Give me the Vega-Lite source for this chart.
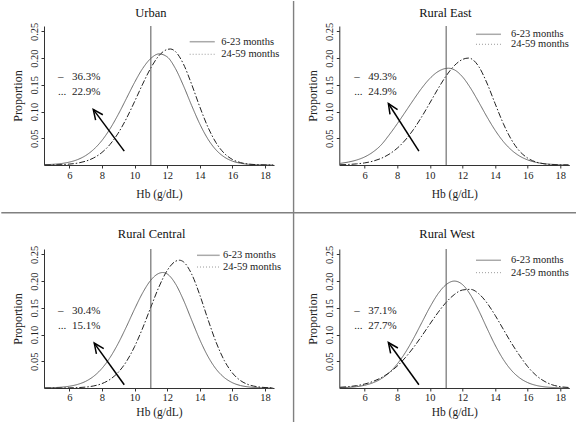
{
"$schema": "https://vega.github.io/schema/vega-lite/v6.json",
"padding": 0,
"columns": 2,
"bounds": "flush",
"spacing": {"row": 84, "column": 65.3},
"datasets": {
"curves": [
{"region":"Urban","age":"6-23 months","hb":4.5,"prop":0.0006},{"region":"Urban","age":"6-23 months","hb":5,"prop":0.0013},{"region":"Urban","age":"6-23 months","hb":5.5,"prop":0.0027},{"region":"Urban","age":"6-23 months","hb":6,"prop":0.0054},{"region":"Urban","age":"6-23 months","hb":6.5,"prop":0.01},{"region":"Urban","age":"6-23 months","hb":7,"prop":0.0176},{"region":"Urban","age":"6-23 months","hb":7.5,"prop":0.0293},{"region":"Urban","age":"6-23 months","hb":8,"prop":0.0458},{"region":"Urban","age":"6-23 months","hb":8.5,"prop":0.0678},{"region":"Urban","age":"6-23 months","hb":9,"prop":0.0945},{"region":"Urban","age":"6-23 months","hb":9.5,"prop":0.1243},{"region":"Urban","age":"6-23 months","hb":10,"prop":0.1543},{"region":"Urban","age":"6-23 months","hb":10.5,"prop":0.1806},{"region":"Urban","age":"6-23 months","hb":11,"prop":0.1994},{"region":"Urban","age":"6-23 months","hb":11.5,"prop":0.2078},{"region":"Urban","age":"6-23 months","hb":12,"prop":0.2023},{"region":"Urban","age":"6-23 months","hb":12.5,"prop":0.1808},{"region":"Urban","age":"6-23 months","hb":13,"prop":0.1482},{"region":"Urban","age":"6-23 months","hb":13.5,"prop":0.1114},{"region":"Urban","age":"6-23 months","hb":14,"prop":0.0768},{"region":"Urban","age":"6-23 months","hb":14.5,"prop":0.0485},{"region":"Urban","age":"6-23 months","hb":15,"prop":0.0281},{"region":"Urban","age":"6-23 months","hb":15.5,"prop":0.015},{"region":"Urban","age":"6-23 months","hb":16,"prop":0.0073},{"region":"Urban","age":"6-23 months","hb":16.5,"prop":0.0033},{"region":"Urban","age":"6-23 months","hb":17,"prop":0.0013},{"region":"Urban","age":"6-23 months","hb":17.5,"prop":0.0005},{"region":"Urban","age":"6-23 months","hb":18,"prop":0.0002},{"region":"Urban","age":"6-23 months","hb":18.5,"prop":0.0},
{"region":"Urban","age":"24-59 months","hb":4.5,"prop":0.0001},{"region":"Urban","age":"24-59 months","hb":5,"prop":0.0003},{"region":"Urban","age":"24-59 months","hb":5.5,"prop":0.0007},{"region":"Urban","age":"24-59 months","hb":6,"prop":0.0017},{"region":"Urban","age":"24-59 months","hb":6.5,"prop":0.0035},{"region":"Urban","age":"24-59 months","hb":7,"prop":0.0071},{"region":"Urban","age":"24-59 months","hb":7.5,"prop":0.0133},{"region":"Urban","age":"24-59 months","hb":8,"prop":0.0234},{"region":"Urban","age":"24-59 months","hb":8.5,"prop":0.0386},{"region":"Urban","age":"24-59 months","hb":9,"prop":0.0597},{"region":"Urban","age":"24-59 months","hb":9.5,"prop":0.0868},{"region":"Urban","age":"24-59 months","hb":10,"prop":0.1184},{"region":"Urban","age":"24-59 months","hb":10.5,"prop":0.1514},{"region":"Urban","age":"24-59 months","hb":11,"prop":0.1817},{"region":"Urban","age":"24-59 months","hb":11.5,"prop":0.2046},{"region":"Urban","age":"24-59 months","hb":12,"prop":0.2161},{"region":"Urban","age":"24-59 months","hb":12.2,"prop":0.217},{"region":"Urban","age":"24-59 months","hb":12.5,"prop":0.2124},{"region":"Urban","age":"24-59 months","hb":13,"prop":0.1887},{"region":"Urban","age":"24-59 months","hb":13.5,"prop":0.151},{"region":"Urban","age":"24-59 months","hb":14,"prop":0.1089},{"region":"Urban","age":"24-59 months","hb":14.5,"prop":0.0708},{"region":"Urban","age":"24-59 months","hb":15,"prop":0.0415},{"region":"Urban","age":"24-59 months","hb":15.5,"prop":0.0219},{"region":"Urban","age":"24-59 months","hb":16,"prop":0.0104},{"region":"Urban","age":"24-59 months","hb":16.5,"prop":0.0045},{"region":"Urban","age":"24-59 months","hb":17,"prop":0.0017},{"region":"Urban","age":"24-59 months","hb":17.5,"prop":0.0006},{"region":"Urban","age":"24-59 months","hb":18,"prop":0.0002},{"region":"Urban","age":"24-59 months","hb":18.5,"prop":0.0},
{"region":"Rural East","age":"6-23 months","hb":4.5,"prop":0.003},{"region":"Rural East","age":"6-23 months","hb":5,"prop":0.0055},{"region":"Rural East","age":"6-23 months","hb":5.5,"prop":0.0092},{"region":"Rural East","age":"6-23 months","hb":6,"prop":0.015},{"region":"Rural East","age":"6-23 months","hb":6.5,"prop":0.024},{"region":"Rural East","age":"6-23 months","hb":7,"prop":0.037},{"region":"Rural East","age":"6-23 months","hb":7.5,"prop":0.056},{"region":"Rural East","age":"6-23 months","hb":8,"prop":0.077},{"region":"Rural East","age":"6-23 months","hb":8.5,"prop":0.0994},{"region":"Rural East","age":"6-23 months","hb":9,"prop":0.122},{"region":"Rural East","age":"6-23 months","hb":9.5,"prop":0.1436},{"region":"Rural East","age":"6-23 months","hb":10,"prop":0.1618},{"region":"Rural East","age":"6-23 months","hb":10.5,"prop":0.1747},{"region":"Rural East","age":"6-23 months","hb":11,"prop":0.1807},{"region":"Rural East","age":"6-23 months","hb":11.15,"prop":0.181},{"region":"Rural East","age":"6-23 months","hb":11.5,"prop":0.1781},{"region":"Rural East","age":"6-23 months","hb":12,"prop":0.165},{"region":"Rural East","age":"6-23 months","hb":12.5,"prop":0.1436},{"region":"Rural East","age":"6-23 months","hb":13,"prop":0.1175},{"region":"Rural East","age":"6-23 months","hb":13.5,"prop":0.0902},{"region":"Rural East","age":"6-23 months","hb":14,"prop":0.0651},{"region":"Rural East","age":"6-23 months","hb":14.5,"prop":0.0441},{"region":"Rural East","age":"6-23 months","hb":15,"prop":0.0281},{"region":"Rural East","age":"6-23 months","hb":15.5,"prop":0.0168},{"region":"Rural East","age":"6-23 months","hb":16,"prop":0.0095},{"region":"Rural East","age":"6-23 months","hb":16.5,"prop":0.005},{"region":"Rural East","age":"6-23 months","hb":17,"prop":0.0025},{"region":"Rural East","age":"6-23 months","hb":17.5,"prop":0.0012},{"region":"Rural East","age":"6-23 months","hb":18,"prop":0.0005},{"region":"Rural East","age":"6-23 months","hb":18.5,"prop":0.0002},
{"region":"Rural East","age":"24-59 months","hb":4.5,"prop":0.0005},{"region":"Rural East","age":"24-59 months","hb":5,"prop":0.001},{"region":"Rural East","age":"24-59 months","hb":5.5,"prop":0.0021},{"region":"Rural East","age":"24-59 months","hb":6,"prop":0.0039},{"region":"Rural East","age":"24-59 months","hb":6.5,"prop":0.0071},{"region":"Rural East","age":"24-59 months","hb":7,"prop":0.0122},{"region":"Rural East","age":"24-59 months","hb":7.5,"prop":0.0201},{"region":"Rural East","age":"24-59 months","hb":8,"prop":0.0314},{"region":"Rural East","age":"24-59 months","hb":8.5,"prop":0.0468},{"region":"Rural East","age":"24-59 months","hb":9,"prop":0.0665},{"region":"Rural East","age":"24-59 months","hb":9.5,"prop":0.09},{"region":"Rural East","age":"24-59 months","hb":10,"prop":0.116},{"region":"Rural East","age":"24-59 months","hb":10.5,"prop":0.1425},{"region":"Rural East","age":"24-59 months","hb":11,"prop":0.1667},{"region":"Rural East","age":"24-59 months","hb":11.5,"prop":0.1858},{"region":"Rural East","age":"24-59 months","hb":12,"prop":0.1974},{"region":"Rural East","age":"24-59 months","hb":12.37,"prop":0.2},{"region":"Rural East","age":"24-59 months","hb":12.5,"prop":0.1993},{"region":"Rural East","age":"24-59 months","hb":13,"prop":0.1841},{"region":"Rural East","age":"24-59 months","hb":13.5,"prop":0.1533},{"region":"Rural East","age":"24-59 months","hb":14,"prop":0.115},{"region":"Rural East","age":"24-59 months","hb":14.5,"prop":0.0778},{"region":"Rural East","age":"24-59 months","hb":15,"prop":0.0474},{"region":"Rural East","age":"24-59 months","hb":15.5,"prop":0.026},{"region":"Rural East","age":"24-59 months","hb":16,"prop":0.0129},{"region":"Rural East","age":"24-59 months","hb":16.5,"prop":0.0057},{"region":"Rural East","age":"24-59 months","hb":17,"prop":0.0023},{"region":"Rural East","age":"24-59 months","hb":17.5,"prop":0.0008},{"region":"Rural East","age":"24-59 months","hb":18,"prop":0.0003},{"region":"Rural East","age":"24-59 months","hb":18.5,"prop":0.0001},
{"region":"Rural Central","age":"6-23 months","hb":4.5,"prop":0.0003},{"region":"Rural Central","age":"6-23 months","hb":5,"prop":0.0007},{"region":"Rural Central","age":"6-23 months","hb":5.5,"prop":0.0015},{"region":"Rural Central","age":"6-23 months","hb":6,"prop":0.0033},{"region":"Rural Central","age":"6-23 months","hb":6.5,"prop":0.0066},{"region":"Rural Central","age":"6-23 months","hb":7,"prop":0.0124},{"region":"Rural Central","age":"6-23 months","hb":7.5,"prop":0.022},{"region":"Rural Central","age":"6-23 months","hb":8,"prop":0.0366},{"region":"Rural Central","age":"6-23 months","hb":8.5,"prop":0.0571},{"region":"Rural Central","age":"6-23 months","hb":9,"prop":0.0835},{"region":"Rural Central","age":"6-23 months","hb":9.5,"prop":0.1145},{"region":"Rural Central","age":"6-23 months","hb":10,"prop":0.1475},{"region":"Rural Central","age":"6-23 months","hb":10.5,"prop":0.1781},{"region":"Rural Central","age":"6-23 months","hb":11,"prop":0.2018},{"region":"Rural Central","age":"6-23 months","hb":11.5,"prop":0.2145},{"region":"Rural Central","age":"6-23 months","hb":11.73,"prop":0.216},{"region":"Rural Central","age":"6-23 months","hb":12,"prop":0.2134},{"region":"Rural Central","age":"6-23 months","hb":12.5,"prop":0.1954},{"region":"Rural Central","age":"6-23 months","hb":13,"prop":0.1645},{"region":"Rural Central","age":"6-23 months","hb":13.5,"prop":0.1272},{"region":"Rural Central","age":"6-23 months","hb":14,"prop":0.0904},{"region":"Rural Central","age":"6-23 months","hb":14.5,"prop":0.0591},{"region":"Rural Central","age":"6-23 months","hb":15,"prop":0.0354},{"region":"Rural Central","age":"6-23 months","hb":15.5,"prop":0.0196},{"region":"Rural Central","age":"6-23 months","hb":16,"prop":0.0099},{"region":"Rural Central","age":"6-23 months","hb":16.5,"prop":0.0046},{"region":"Rural Central","age":"6-23 months","hb":17,"prop":0.002},{"region":"Rural Central","age":"6-23 months","hb":17.5,"prop":0.0008},{"region":"Rural Central","age":"6-23 months","hb":18,"prop":0.0003},{"region":"Rural Central","age":"6-23 months","hb":18.5,"prop":0.0001},
{"region":"Rural Central","age":"24-59 months","hb":4.5,"prop":0.0},{"region":"Rural Central","age":"24-59 months","hb":5,"prop":0.0},{"region":"Rural Central","age":"24-59 months","hb":5.5,"prop":0.0001},{"region":"Rural Central","age":"24-59 months","hb":6,"prop":0.0003},{"region":"Rural Central","age":"24-59 months","hb":6.5,"prop":0.0007},{"region":"Rural Central","age":"24-59 months","hb":7,"prop":0.0017},{"region":"Rural Central","age":"24-59 months","hb":7.5,"prop":0.0039},{"region":"Rural Central","age":"24-59 months","hb":8,"prop":0.0082},{"region":"Rural Central","age":"24-59 months","hb":8.5,"prop":0.0161},{"region":"Rural Central","age":"24-59 months","hb":9,"prop":0.0293},{"region":"Rural Central","age":"24-59 months","hb":9.5,"prop":0.0494},{"region":"Rural Central","age":"24-59 months","hb":10,"prop":0.0773},{"region":"Rural Central","age":"24-59 months","hb":10.5,"prop":0.1122},{"region":"Rural Central","age":"24-59 months","hb":11,"prop":0.1513},{"region":"Rural Central","age":"24-59 months","hb":11.5,"prop":0.1893},{"region":"Rural Central","age":"24-59 months","hb":12,"prop":0.2197},{"region":"Rural Central","age":"24-59 months","hb":12.5,"prop":0.2368},{"region":"Rural Central","age":"24-59 months","hb":12.75,"prop":0.239},{"region":"Rural Central","age":"24-59 months","hb":13,"prop":0.236},{"region":"Rural Central","age":"24-59 months","hb":13.5,"prop":0.2132},{"region":"Rural Central","age":"24-59 months","hb":14,"prop":0.1741},{"region":"Rural Central","age":"24-59 months","hb":14.5,"prop":0.1284},{"region":"Rural Central","age":"24-59 months","hb":15,"prop":0.0856},{"region":"Rural Central","age":"24-59 months","hb":15.5,"prop":0.0516},{"region":"Rural Central","age":"24-59 months","hb":16,"prop":0.0281},{"region":"Rural Central","age":"24-59 months","hb":16.5,"prop":0.0138},{"region":"Rural Central","age":"24-59 months","hb":17,"prop":0.0061},{"region":"Rural Central","age":"24-59 months","hb":17.5,"prop":0.0025},{"region":"Rural Central","age":"24-59 months","hb":18,"prop":0.0009},{"region":"Rural Central","age":"24-59 months","hb":18.5,"prop":0.0003},
{"region":"Rural West","age":"6-23 months","hb":4.5,"prop":0.0005},{"region":"Rural West","age":"6-23 months","hb":5,"prop":0.0012},{"region":"Rural West","age":"6-23 months","hb":5.5,"prop":0.0025},{"region":"Rural West","age":"6-23 months","hb":6,"prop":0.0051},{"region":"Rural West","age":"6-23 months","hb":6.5,"prop":0.0096},{"region":"Rural West","age":"6-23 months","hb":7,"prop":0.017},{"region":"Rural West","age":"6-23 months","hb":7.5,"prop":0.0284},{"region":"Rural West","age":"6-23 months","hb":8,"prop":0.0448},{"region":"Rural West","age":"6-23 months","hb":8.5,"prop":0.0664},{"region":"Rural West","age":"6-23 months","hb":9,"prop":0.0927},{"region":"Rural West","age":"6-23 months","hb":9.5,"prop":0.1219},{"region":"Rural West","age":"6-23 months","hb":10,"prop":0.151},{"region":"Rural West","age":"6-23 months","hb":10.5,"prop":0.1761},{"region":"Rural West","age":"6-23 months","hb":11,"prop":0.1934},{"region":"Rural West","age":"6-23 months","hb":11.5,"prop":0.2},{"region":"Rural West","age":"6-23 months","hb":12,"prop":0.1935},{"region":"Rural West","age":"6-23 months","hb":12.5,"prop":0.1738},{"region":"Rural West","age":"6-23 months","hb":13,"prop":0.1448},{"region":"Rural West","age":"6-23 months","hb":13.5,"prop":0.112},{"region":"Rural West","age":"6-23 months","hb":14,"prop":0.0804},{"region":"Rural West","age":"6-23 months","hb":14.5,"prop":0.0536},{"region":"Rural West","age":"6-23 months","hb":15,"prop":0.0331},{"region":"Rural West","age":"6-23 months","hb":15.5,"prop":0.019},{"region":"Rural West","age":"6-23 months","hb":16,"prop":0.0101},{"region":"Rural West","age":"6-23 months","hb":16.5,"prop":0.005},{"region":"Rural West","age":"6-23 months","hb":17,"prop":0.0023},{"region":"Rural West","age":"6-23 months","hb":17.5,"prop":0.001},{"region":"Rural West","age":"6-23 months","hb":18,"prop":0.0004},{"region":"Rural West","age":"6-23 months","hb":18.5,"prop":0.0001},
{"region":"Rural West","age":"24-59 months","hb":4.5,"prop":0.0014},{"region":"Rural West","age":"24-59 months","hb":5,"prop":0.0025},{"region":"Rural West","age":"24-59 months","hb":5.5,"prop":0.0044},{"region":"Rural West","age":"24-59 months","hb":6,"prop":0.0074},{"region":"Rural West","age":"24-59 months","hb":6.5,"prop":0.0121},{"region":"Rural West","age":"24-59 months","hb":7,"prop":0.0189},{"region":"Rural West","age":"24-59 months","hb":7.5,"prop":0.0284},{"region":"Rural West","age":"24-59 months","hb":8,"prop":0.041},{"region":"Rural West","age":"24-59 months","hb":8.5,"prop":0.0569},{"region":"Rural West","age":"24-59 months","hb":9,"prop":0.0758},{"region":"Rural West","age":"24-59 months","hb":9.5,"prop":0.097},{"region":"Rural West","age":"24-59 months","hb":10,"prop":0.1194},{"region":"Rural West","age":"24-59 months","hb":10.5,"prop":0.1411},{"region":"Rural West","age":"24-59 months","hb":11,"prop":0.1602},{"region":"Rural West","age":"24-59 months","hb":11.5,"prop":0.1748},{"region":"Rural West","age":"24-59 months","hb":12,"prop":0.1833},{"region":"Rural West","age":"24-59 months","hb":12.5,"prop":0.1845},{"region":"Rural West","age":"24-59 months","hb":13,"prop":0.1763},{"region":"Rural West","age":"24-59 months","hb":13.5,"prop":0.1593},{"region":"Rural West","age":"24-59 months","hb":14,"prop":0.1361},{"region":"Rural West","age":"24-59 months","hb":14.5,"prop":0.1101},{"region":"Rural West","age":"24-59 months","hb":15,"prop":0.0842},{"region":"Rural West","age":"24-59 months","hb":15.5,"prop":0.0609},{"region":"Rural West","age":"24-59 months","hb":16,"prop":0.04},{"region":"Rural West","age":"24-59 months","hb":16.5,"prop":0.024},{"region":"Rural West","age":"24-59 months","hb":17,"prop":0.013},{"region":"Rural West","age":"24-59 months","hb":17.5,"prop":0.006},{"region":"Rural West","age":"24-59 months","hb":18,"prop":0.0025},{"region":"Rural West","age":"24-59 months","hb":18.5,"prop":0.001}
],
"titles": [
{"region":"Urban","tx":11.0,"ty":0.2843},
{"region":"Rural East","tx":10.95,"ty":0.2843},
{"region":"Rural Central","tx":11.05,"ty":0.2886},
{"region":"Rural West","tx":11.05,"ty":0.2886}
],
"legend": [
{"region":"Urban","age":"6-23 months","lx1":13.38,"lx2":14.92,"tx":15.32,"ly":0.2306},
{"region":"Urban","age":"24-59 months","lx1":13.38,"lx2":14.92,"tx":15.32,"ly":0.2071},
{"region":"Rural East","age":"6-23 months","lx1":12.83,"lx2":14.36,"tx":14.97,"ly":0.2445},
{"region":"Rural East","age":"24-59 months","lx1":12.83,"lx2":14.36,"tx":14.97,"ly":0.2258},
{"region":"Rural Central","age":"6-23 months","lx1":13.83,"lx2":15.22,"tx":15.42,"ly":0.2482},
{"region":"Rural Central","age":"24-59 months","lx1":13.83,"lx2":15.22,"tx":15.42,"ly":0.2263},
{"region":"Rural West","age":"6-23 months","lx1":12.83,"lx2":14.36,"tx":14.97,"ly":0.2389},
{"region":"Rural West","age":"24-59 months","lx1":12.83,"lx2":14.36,"tx":14.97,"ly":0.2157}
],
"notes": [
{"region":"Urban","sym":"–","pct":"36.3%","mx":5.31,"nx":6.17,"ny":0.1646},
{"region":"Urban","sym":"...","pct":"22.9%","mx":5.31,"nx":6.17,"ny":0.137},
{"region":"Rural East","sym":"–","pct":"49.3%","mx":5.37,"nx":6.23,"ny":0.1646},
{"region":"Rural East","sym":"...","pct":"24.9%","mx":5.37,"nx":6.23,"ny":0.137},
{"region":"Rural Central","sym":"–","pct":"30.4%","mx":5.31,"nx":6.17,"ny":0.1435},
{"region":"Rural Central","sym":"...","pct":"15.1%","mx":5.31,"nx":6.17,"ny":0.116},
{"region":"Rural West","sym":"–","pct":"37.1%","mx":5.37,"nx":6.23,"ny":0.1435},
{"region":"Rural West","sym":"...","pct":"27.7%","mx":5.37,"nx":6.23,"ny":0.116}
],
"arrows": [
{"region":"Urban","x0":9.37,"y0":0.026,"x1":7.47,"y1":0.104},
{"region":"Rural East","x0":9.33,"y0":0.026,"x1":7.46,"y1":0.115},
{"region":"Rural Central","x0":9.37,"y0":0.006,"x1":7.53,"y1":0.084},
{"region":"Rural West","x0":9.33,"y0":0.006,"x1":7.46,"y1":0.085}
],
"dividers": [
{"x":19.75,"x2":19.75,"y":0.3068,"y2":-0.4826},
{"x":1.832,"x2":37.144,"y":-0.0892,"y2":-0.0892}
]
},
"concat": [
{
"width":230,"height":139,
"layer":[
{"data":{"name":"curves"},"transform":[{"filter":"datum.region === 'Urban'"}],"mark":{"type":"line","interpolate":"monotone","strokeWidth":1},
"encoding":{
"x":{"field":"hb","type":"quantitative","scale":{"domain":[4.45,18.55],"nice":false,"zero":false},"axis":{"values":[6,8,10,12,14,16,18],"tickCount":30,"format":"d","title":"Hb (g/dL)","titlePadding":8,"labelPadding":2,"labelFlush":false,"labelOverlap":false}},
"y":{"field":"prop","type":"quantitative","scale":{"domain":[0,0.26],"nice":false,"zero":false},"axis":{"values":[0.05,0.1,0.15,0.2,0.25],"tickCount":30,"format":".2f","labelAngle":-90,"labelAlign":"center","labelBaseline":"bottom","labelOverlap":false,"title":"Proportion","titlePadding":5,"labelPadding":2}},
"color":{"field":"age","type":"nominal","scale":{"domain":["6-23 months","24-59 months"],"range":["#666666","#222222"]},"legend":null},
"strokeDash":{"field":"age","type":"nominal","scale":{"domain":["6-23 months","24-59 months"],"range":[[1,0],[6,2,1.5,2]]},"legend":null}}},
{"data":{"values":[{}]},"mark":{"type":"rule","color":"#555555","strokeWidth":1},"encoding":{"x":{"datum":11}}},
{"data":{"name":"titles"},"transform":[{"filter":"datum.region === 'Urban'"}],"mark":{"type":"text","align":"center","baseline":"middle","fontSize":12.5,"color":"#111111"},"encoding":{"x":{"field":"tx","type":"quantitative"},"y":{"field":"ty","type":"quantitative"},"text":{"field":"region"}}},
{"data":{"name":"legend"},"transform":[{"filter":"datum.region === 'Urban' && datum.age === '6-23 months'"}],"mark":{"type":"rule","color":"#aaaaaa","strokeWidth":1.5},"encoding":{"x":{"field":"lx1","type":"quantitative"},"x2":{"field":"lx2"},"y":{"field":"ly","type":"quantitative"}}},
{"data":{"name":"legend"},"transform":[{"filter":"datum.region === 'Urban' && datum.age === '24-59 months'"}],"mark":{"type":"rule","color":"#999999","strokeWidth":1,"strokeDash":[1,2]},"encoding":{"x":{"field":"lx1","type":"quantitative"},"x2":{"field":"lx2"},"y":{"field":"ly","type":"quantitative"}}},
{"data":{"name":"legend"},"transform":[{"filter":"datum.region === 'Urban'"}],"mark":{"type":"text","align":"left","baseline":"middle","fontSize":10.5,"color":"#222222"},"encoding":{"x":{"field":"tx","type":"quantitative"},"y":{"field":"ly","type":"quantitative"},"text":{"field":"age"}}},
{"data":{"name":"notes"},"transform":[{"filter":"datum.region === 'Urban'"}],"mark":{"type":"text","align":"left","baseline":"middle","fontSize":11,"color":"#222222"},"encoding":{"x":{"field":"mx","type":"quantitative"},"y":{"field":"ny","type":"quantitative"},"text":{"field":"sym"}}},
{"data":{"name":"notes"},"transform":[{"filter":"datum.region === 'Urban'"}],"mark":{"type":"text","align":"left","baseline":"middle","fontSize":11,"color":"#222222"},"encoding":{"x":{"field":"nx","type":"quantitative"},"y":{"field":"ny","type":"quantitative"},"text":{"field":"pct"}}},
{"data":{"name":"arrows"},"transform":[{"filter":"datum.region === 'Urban'"}],"mark":{"type":"rule","color":"#000000","strokeWidth":1.5},"encoding":{"x":{"field":"x0","type":"quantitative"},"y":{"field":"y0","type":"quantitative"},"x2":{"field":"x1"},"y2":{"field":"y1"}}},
{"data":{"name":"arrows"},"transform":[{"filter":"datum.region === 'Urban'"}],"mark":{"type":"point","shape":"M -0.45 1 L 0 0 L 0.45 1","size":400,"filled":false,"stroke":"#000000","strokeWidth":1.5,"opacity":1,"angle":323.4},"encoding":{"x":{"field":"x1","type":"quantitative"},"y":{"field":"y1","type":"quantitative"}}},
{"data":{"name":"dividers"},"mark":{"type":"rule","color":"#808080","strokeWidth":1.4},"encoding":{"x":{"field":"x","type":"quantitative"},"x2":{"field":"x2"},"y":{"field":"y","type":"quantitative"},"y2":{"field":"y2"}}}
]
},
{
"width":230,"height":139,
"layer":[
{"data":{"name":"curves"},"transform":[{"filter":"datum.region === 'Rural East'"}],"mark":{"type":"line","interpolate":"monotone","strokeWidth":1},
"encoding":{
"x":{"field":"hb","type":"quantitative","scale":{"domain":[4.45,18.55],"nice":false,"zero":false},"axis":{"values":[6,8,10,12,14,16,18],"tickCount":30,"format":"d","title":"Hb (g/dL)","titlePadding":8,"labelPadding":2,"labelFlush":false,"labelOverlap":false}},
"y":{"field":"prop","type":"quantitative","scale":{"domain":[0,0.26],"nice":false,"zero":false},"axis":{"values":[0.05,0.1,0.15,0.2,0.25],"tickCount":30,"format":".2f","labelAngle":-90,"labelAlign":"center","labelBaseline":"bottom","labelOverlap":false,"title":"Proportion","titlePadding":5,"labelPadding":2}},
"color":{"field":"age","type":"nominal","scale":{"domain":["6-23 months","24-59 months"],"range":["#666666","#222222"]},"legend":null},
"strokeDash":{"field":"age","type":"nominal","scale":{"domain":["6-23 months","24-59 months"],"range":[[1,0],[6,2,1.5,2]]},"legend":null}}},
{"data":{"values":[{}]},"mark":{"type":"rule","color":"#555555","strokeWidth":1},"encoding":{"x":{"datum":11}}},
{"data":{"name":"titles"},"transform":[{"filter":"datum.region === 'Rural East'"}],"mark":{"type":"text","align":"center","baseline":"middle","fontSize":12.5,"color":"#111111"},"encoding":{"x":{"field":"tx","type":"quantitative"},"y":{"field":"ty","type":"quantitative"},"text":{"field":"region"}}},
{"data":{"name":"legend"},"transform":[{"filter":"datum.region === 'Rural East' && datum.age === '6-23 months'"}],"mark":{"type":"rule","color":"#aaaaaa","strokeWidth":1.5},"encoding":{"x":{"field":"lx1","type":"quantitative"},"x2":{"field":"lx2"},"y":{"field":"ly","type":"quantitative"}}},
{"data":{"name":"legend"},"transform":[{"filter":"datum.region === 'Rural East' && datum.age === '24-59 months'"}],"mark":{"type":"rule","color":"#999999","strokeWidth":1,"strokeDash":[1,2]},"encoding":{"x":{"field":"lx1","type":"quantitative"},"x2":{"field":"lx2"},"y":{"field":"ly","type":"quantitative"}}},
{"data":{"name":"legend"},"transform":[{"filter":"datum.region === 'Rural East'"}],"mark":{"type":"text","align":"left","baseline":"middle","fontSize":10.5,"color":"#222222"},"encoding":{"x":{"field":"tx","type":"quantitative"},"y":{"field":"ly","type":"quantitative"},"text":{"field":"age"}}},
{"data":{"name":"notes"},"transform":[{"filter":"datum.region === 'Rural East'"}],"mark":{"type":"text","align":"left","baseline":"middle","fontSize":11,"color":"#222222"},"encoding":{"x":{"field":"mx","type":"quantitative"},"y":{"field":"ny","type":"quantitative"},"text":{"field":"sym"}}},
{"data":{"name":"notes"},"transform":[{"filter":"datum.region === 'Rural East'"}],"mark":{"type":"text","align":"left","baseline":"middle","fontSize":11,"color":"#222222"},"encoding":{"x":{"field":"nx","type":"quantitative"},"y":{"field":"ny","type":"quantitative"},"text":{"field":"pct"}}},
{"data":{"name":"arrows"},"transform":[{"filter":"datum.region === 'Rural East'"}],"mark":{"type":"rule","color":"#000000","strokeWidth":1.5},"encoding":{"x":{"field":"x0","type":"quantitative"},"y":{"field":"y0","type":"quantitative"},"x2":{"field":"x1"},"y2":{"field":"y1"}}},
{"data":{"name":"arrows"},"transform":[{"filter":"datum.region === 'Rural East'"}],"mark":{"type":"point","shape":"M -0.45 1 L 0 0 L 0.45 1","size":400,"filled":false,"stroke":"#000000","strokeWidth":1.5,"opacity":1,"angle":327.4},"encoding":{"x":{"field":"x1","type":"quantitative"},"y":{"field":"y1","type":"quantitative"}}}
]
},
{
"width":230,"height":139,
"layer":[
{"data":{"name":"curves"},"transform":[{"filter":"datum.region === 'Rural Central'"}],"mark":{"type":"line","interpolate":"monotone","strokeWidth":1},
"encoding":{
"x":{"field":"hb","type":"quantitative","scale":{"domain":[4.45,18.55],"nice":false,"zero":false},"axis":{"values":[6,8,10,12,14,16,18],"tickCount":30,"format":"d","title":"Hb (g/dL)","titlePadding":4,"labelPadding":1,"labelFlush":false,"labelOverlap":false}},
"y":{"field":"prop","type":"quantitative","scale":{"domain":[0,0.26],"nice":false,"zero":false},"axis":{"values":[0.05,0.1,0.15,0.2,0.25],"tickCount":30,"format":".2f","labelAngle":-90,"labelAlign":"center","labelBaseline":"bottom","labelOverlap":false,"title":"Proportion","titlePadding":5,"labelPadding":2}},
"color":{"field":"age","type":"nominal","scale":{"domain":["6-23 months","24-59 months"],"range":["#666666","#222222"]},"legend":null},
"strokeDash":{"field":"age","type":"nominal","scale":{"domain":["6-23 months","24-59 months"],"range":[[1,0],[6,2,1.5,2]]},"legend":null}}},
{"data":{"values":[{}]},"mark":{"type":"rule","color":"#555555","strokeWidth":1},"encoding":{"x":{"datum":11}}},
{"data":{"name":"titles"},"transform":[{"filter":"datum.region === 'Rural Central'"}],"mark":{"type":"text","align":"center","baseline":"middle","fontSize":12.5,"color":"#111111"},"encoding":{"x":{"field":"tx","type":"quantitative"},"y":{"field":"ty","type":"quantitative"},"text":{"field":"region"}}},
{"data":{"name":"legend"},"transform":[{"filter":"datum.region === 'Rural Central' && datum.age === '6-23 months'"}],"mark":{"type":"rule","color":"#aaaaaa","strokeWidth":1.5},"encoding":{"x":{"field":"lx1","type":"quantitative"},"x2":{"field":"lx2"},"y":{"field":"ly","type":"quantitative"}}},
{"data":{"name":"legend"},"transform":[{"filter":"datum.region === 'Rural Central' && datum.age === '24-59 months'"}],"mark":{"type":"rule","color":"#999999","strokeWidth":1,"strokeDash":[1,2]},"encoding":{"x":{"field":"lx1","type":"quantitative"},"x2":{"field":"lx2"},"y":{"field":"ly","type":"quantitative"}}},
{"data":{"name":"legend"},"transform":[{"filter":"datum.region === 'Rural Central'"}],"mark":{"type":"text","align":"left","baseline":"middle","fontSize":10.5,"color":"#222222"},"encoding":{"x":{"field":"tx","type":"quantitative"},"y":{"field":"ly","type":"quantitative"},"text":{"field":"age"}}},
{"data":{"name":"notes"},"transform":[{"filter":"datum.region === 'Rural Central'"}],"mark":{"type":"text","align":"left","baseline":"middle","fontSize":11,"color":"#222222"},"encoding":{"x":{"field":"mx","type":"quantitative"},"y":{"field":"ny","type":"quantitative"},"text":{"field":"sym"}}},
{"data":{"name":"notes"},"transform":[{"filter":"datum.region === 'Rural Central'"}],"mark":{"type":"text","align":"left","baseline":"middle","fontSize":11,"color":"#222222"},"encoding":{"x":{"field":"nx","type":"quantitative"},"y":{"field":"ny","type":"quantitative"},"text":{"field":"pct"}}},
{"data":{"name":"arrows"},"transform":[{"filter":"datum.region === 'Rural Central'"}],"mark":{"type":"rule","color":"#000000","strokeWidth":1.5},"encoding":{"x":{"field":"x0","type":"quantitative"},"y":{"field":"y0","type":"quantitative"},"x2":{"field":"x1"},"y2":{"field":"y1"}}},
{"data":{"name":"arrows"},"transform":[{"filter":"datum.region === 'Rural Central'"}],"mark":{"type":"point","shape":"M -0.45 1 L 0 0 L 0.45 1","size":400,"filled":false,"stroke":"#000000","strokeWidth":1.5,"opacity":1,"angle":324.3},"encoding":{"x":{"field":"x1","type":"quantitative"},"y":{"field":"y1","type":"quantitative"}}}
]
},
{
"width":230,"height":139,
"layer":[
{"data":{"name":"curves"},"transform":[{"filter":"datum.region === 'Rural West'"}],"mark":{"type":"line","interpolate":"monotone","strokeWidth":1},
"encoding":{
"x":{"field":"hb","type":"quantitative","scale":{"domain":[4.45,18.55],"nice":false,"zero":false},"axis":{"values":[6,8,10,12,14,16,18],"tickCount":30,"format":"d","title":"Hb (g/dL)","titlePadding":4,"labelPadding":1,"labelFlush":false,"labelOverlap":false}},
"y":{"field":"prop","type":"quantitative","scale":{"domain":[0,0.26],"nice":false,"zero":false},"axis":{"values":[0.05,0.1,0.15,0.2,0.25],"tickCount":30,"format":".2f","labelAngle":-90,"labelAlign":"center","labelBaseline":"bottom","labelOverlap":false,"title":"Proportion","titlePadding":5,"labelPadding":2}},
"color":{"field":"age","type":"nominal","scale":{"domain":["6-23 months","24-59 months"],"range":["#666666","#222222"]},"legend":null},
"strokeDash":{"field":"age","type":"nominal","scale":{"domain":["6-23 months","24-59 months"],"range":[[1,0],[6,2,1.5,2]]},"legend":null}}},
{"data":{"values":[{}]},"mark":{"type":"rule","color":"#555555","strokeWidth":1},"encoding":{"x":{"datum":11}}},
{"data":{"name":"titles"},"transform":[{"filter":"datum.region === 'Rural West'"}],"mark":{"type":"text","align":"center","baseline":"middle","fontSize":12.5,"color":"#111111"},"encoding":{"x":{"field":"tx","type":"quantitative"},"y":{"field":"ty","type":"quantitative"},"text":{"field":"region"}}},
{"data":{"name":"legend"},"transform":[{"filter":"datum.region === 'Rural West' && datum.age === '6-23 months'"}],"mark":{"type":"rule","color":"#aaaaaa","strokeWidth":1.5},"encoding":{"x":{"field":"lx1","type":"quantitative"},"x2":{"field":"lx2"},"y":{"field":"ly","type":"quantitative"}}},
{"data":{"name":"legend"},"transform":[{"filter":"datum.region === 'Rural West' && datum.age === '24-59 months'"}],"mark":{"type":"rule","color":"#999999","strokeWidth":1,"strokeDash":[1,2]},"encoding":{"x":{"field":"lx1","type":"quantitative"},"x2":{"field":"lx2"},"y":{"field":"ly","type":"quantitative"}}},
{"data":{"name":"legend"},"transform":[{"filter":"datum.region === 'Rural West'"}],"mark":{"type":"text","align":"left","baseline":"middle","fontSize":10.5,"color":"#222222"},"encoding":{"x":{"field":"tx","type":"quantitative"},"y":{"field":"ly","type":"quantitative"},"text":{"field":"age"}}},
{"data":{"name":"notes"},"transform":[{"filter":"datum.region === 'Rural West'"}],"mark":{"type":"text","align":"left","baseline":"middle","fontSize":11,"color":"#222222"},"encoding":{"x":{"field":"mx","type":"quantitative"},"y":{"field":"ny","type":"quantitative"},"text":{"field":"sym"}}},
{"data":{"name":"notes"},"transform":[{"filter":"datum.region === 'Rural West'"}],"mark":{"type":"text","align":"left","baseline":"middle","fontSize":11,"color":"#222222"},"encoding":{"x":{"field":"nx","type":"quantitative"},"y":{"field":"ny","type":"quantitative"},"text":{"field":"pct"}}},
{"data":{"name":"arrows"},"transform":[{"filter":"datum.region === 'Rural West'"}],"mark":{"type":"rule","color":"#000000","strokeWidth":1.5},"encoding":{"x":{"field":"x0","type":"quantitative"},"y":{"field":"y0","type":"quantitative"},"x2":{"field":"x1"},"y2":{"field":"y1"}}},
{"data":{"name":"arrows"},"transform":[{"filter":"datum.region === 'Rural West'"}],"mark":{"type":"point","shape":"M -0.45 1 L 0 0 L 0.45 1","size":400,"filled":false,"stroke":"#000000","strokeWidth":1.5,"opacity":1,"angle":324.1},"encoding":{"x":{"field":"x1","type":"quantitative"},"y":{"field":"y1","type":"quantitative"}}}
]
}
],
"config": {
"font": "Liberation Serif",
"view": {"stroke": null},
"axis": {"grid": false, "domainColor": "#333333", "tickColor": "#333333", "tickSize": 3, "labelColor": "#222222", "titleColor": "#222222", "labelFont": "Liberation Serif", "titleFont": "Liberation Serif", "labelFontSize": 10.5, "titleFontSize": 11.5, "titleFontWeight": "normal"},
"axisY": {"titleFontSize": 12}
}
}
